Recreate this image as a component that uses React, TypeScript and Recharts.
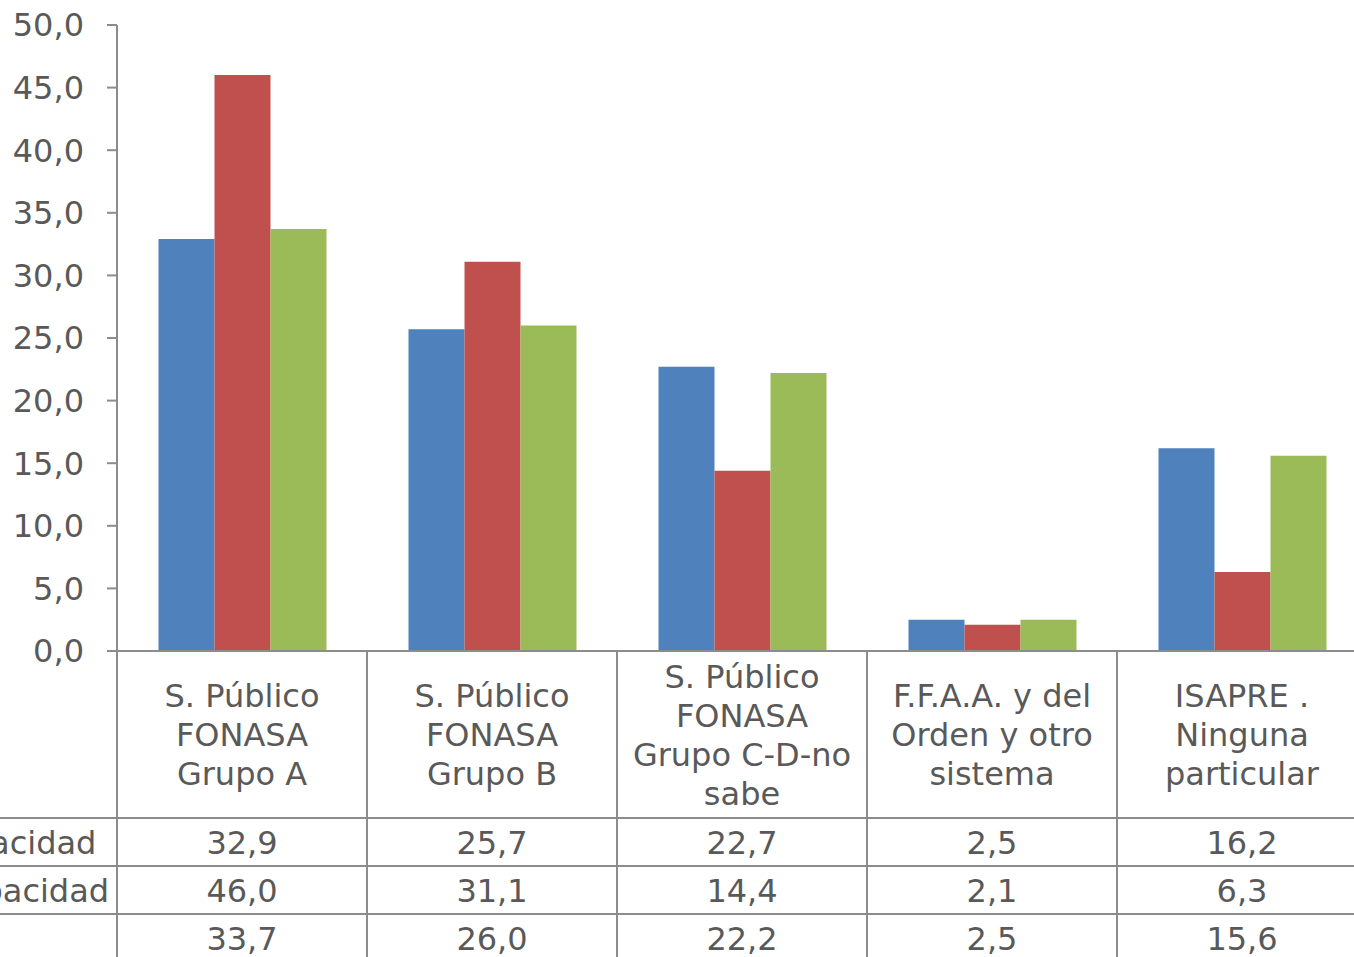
import { BarChart, Bar, XAxis, YAxis } from 'recharts';

const categories = [
  'S. Público FONASA Grupo A',
  'S. Público FONASA Grupo B',
  'S. Público FONASA Grupo C-D-no sabe',
  'F.F.A.A. y del Orden y otro sistema',
  'ISAPRE . Ninguna particular',
];
const categoryLines = [
  ['S. Público', 'FONASA', 'Grupo A'],
  ['S. Público', 'FONASA', 'Grupo B'],
  ['S. Público', 'FONASA', 'Grupo C-D-no', 'sabe'],
  ['F.F.A.A. y del', 'Orden y otro', 'sistema'],
  ['ISAPRE .', 'Ninguna', 'particular'],
];
const seriesNames = ['Sin discapacidad', 'Con discapacidad', 'Total'];
const sinDisc = [32.9, 25.7, 22.7, 2.5, 16.2];
const conDisc = [46.0, 31.1, 14.4, 2.1, 6.3];
const total = [33.7, 26.0, 22.2, 2.5, 15.6];
const yTicks = [0, 5, 10, 15, 20, 25, 30, 35, 40, 45, 50];

const data = categories.map((name, i) => ({
  name,
  s0: sinDisc[i],
  s1: conDisc[i],
  s2: total[i],
}));
const seriesValues = [sinDisc, conDisc, total];

const SHIFT = 200; // chart is cropped on the left
const PLOT_W = 1250;
const HEADER_H = 167;
const ROW_H = 48;
const TABLE_H = HEADER_H + ROW_H * 3;
const BAND = PLOT_W / categories.length;
const LINE = '#8c8c8c';
const TEXT = '#595959';
const FONT = "Verdana, 'DejaVu Sans', sans-serif";
const FS = 32;

const fmt = (v: number) => v.toFixed(1).replace('.', ',');

const TableTick = (props: any) => {
  const { x, y, index } = props;
  const left = x - BAND / 2;
  const right = x + BAND / 2;
  const lines = categoryLines[index];
  const lh = 39;
  const startY = y + HEADER_H / 2 - ((lines.length - 1) * lh) / 2;
  return (
    <g>
      <line x1={left} y1={y} x2={left} y2={y + TABLE_H} stroke={LINE} strokeWidth={2} />
      {index === categories.length - 1 && (
        <line x1={right} y1={y} x2={right} y2={y + TABLE_H} stroke={LINE} strokeWidth={2} />
      )}
      {[0, 1, 2, 3].map((r) => (
        <line
          key={r}
          x1={index === 0 ? 0 : left}
          y1={y + HEADER_H + r * ROW_H}
          x2={right}
          y2={y + HEADER_H + r * ROW_H}
          stroke={LINE}
          strokeWidth={2}
        />
      ))}
      {lines.map((t, k) => (
        <text
          key={k}
          x={x}
          y={startY + k * lh}
          dy="0.36em"
          textAnchor="middle"
          fill={TEXT}
          fontSize={FS}
          fontFamily={FONT}
        >
          {t}
        </text>
      ))}
      {seriesValues.map((vals, r) => (
        <text
          key={r}
          x={x}
          y={y + HEADER_H + r * ROW_H + ROW_H / 2}
          dy="0.36em"
          textAnchor="middle"
          fill={TEXT}
          fontSize={FS}
          fontFamily={FONT}
        >
          {fmt(vals[index])}
        </text>
      ))}
      {index === 0 &&
        seriesNames.map((n, r) => (
          <text
            key={n}
            x={27}
            y={y + HEADER_H + r * ROW_H + ROW_H / 2}
            dy="0.36em"
            textAnchor="start"
            fill={TEXT}
            fontSize={FS}
            fontFamily={FONT}
          >
            {n}
          </text>
        ))}
    </g>
  );
};

export default function App() {
  return (
    <div style={{ position: 'fixed', inset: 0, overflow: 'hidden', background: '#fff' }}>
      <div style={{ position: 'absolute', left: -SHIFT, top: 0 }}>
        <BarChart
          width={SHIFT + 117 + PLOT_W + 13}
          height={25 + 626 + TABLE_H + 10}
          data={data}
          margin={{ top: 25, right: 13, bottom: 10, left: SHIFT }}
          barCategoryGap={41.5}
          barGap={0}
        >
          <YAxis
            domain={[0, 50]}
            ticks={yTicks}
            width={117}
            tickSize={10}
            tickMargin={23}
            tickFormatter={fmt}
            axisLine={{ stroke: LINE, strokeWidth: 2 }}
            tickLine={{ stroke: LINE, strokeWidth: 2 }}
            tick={{ fill: TEXT, fontSize: FS, fontFamily: FONT }}
            interval={0}
          />
          <XAxis
            dataKey="name"
            height={TABLE_H}
            tickSize={0}
            tickMargin={0}
            tickLine={false}
            axisLine={{ stroke: LINE, strokeWidth: 2 }}
            tick={<TableTick />}
            interval={0}
          />
          <Bar dataKey="s0" name={seriesNames[0]} fill="#4f81bd" isAnimationActive={false} />
          <Bar dataKey="s1" name={seriesNames[1]} fill="#c0504d" isAnimationActive={false} />
          <Bar dataKey="s2" name={seriesNames[2]} fill="#9bbb59" isAnimationActive={false} />
        </BarChart>
      </div>
    </div>
  );
}
